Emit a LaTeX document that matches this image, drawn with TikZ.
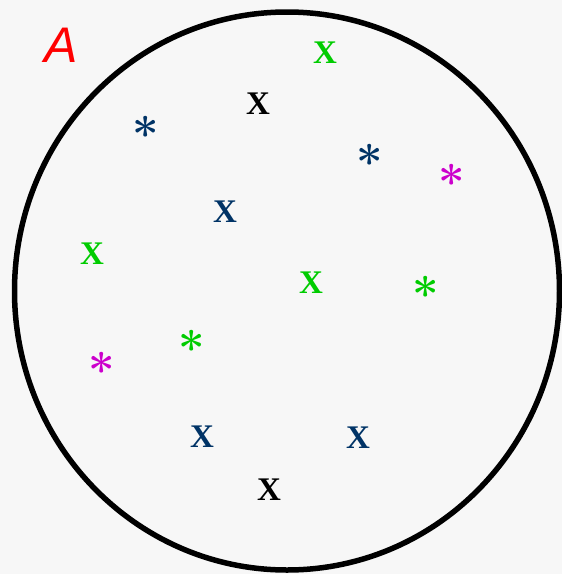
\documentclass[tikz,border=0pt]{standalone}
\usepackage{fontspec}
\newfontfamily\crossfont{Liberation Serif}
\newfontfamily\labelfont{Liberation Sans}
\usepackage{tikz}
\usetikzlibrary{backgrounds}
\definecolor{bggray}{RGB}{247,247,247}
\definecolor{pgreen}{RGB}{0,204,0}
\definecolor{pnavy}{RGB}{0,51,102}
\definecolor{pmagenta}{RGB}{204,0,204}

\begin{document}
\begin{tikzpicture}[
  x=1pt, y=-1pt,
  crs/.style={inner sep=0pt, font=\crossfont\bfseries\fontsize{33}{33}\selectfont},
  ast/.style={inner sep=0pt, anchor=base, yshift=-25pt,
              font=\bfseries\fontsize{47}{47}\selectfont},
  setline/.style={line width=5.5pt}
]
  % - Nen va bien -
  \fill[bggray] (0,0) rectangle (562,574);
  \useasboundingbox (0,0) rectangle (562,574);
  \draw[setline] (287,291) ellipse [x radius=272.5, y radius=279];
  \node[text=red, inner sep=0pt, font=\labelfont\itshape\fontsize{50}{50}\selectfont]
    (lblA) at (61,45) {A};

  % - Cac dau X -
  \node[crs, text=pgreen] (xg1) at (325,53)  {X};
  \node[crs]              (xk1) at (258,104) {X};
  \node[crs, text=pnavy]  (xn1) at (225,212) {X};
  \node[crs, text=pgreen] (xg2) at (92,254)  {X};
  \node[crs, text=pgreen] (xg3) at (311,283) {X};
  \node[crs, text=pnavy]  (xn2) at (202,437) {X};
  \node[crs, text=pnavy]  (xn3) at (358,438) {X};
  \node[crs]              (xk2) at (269,490) {X};

  % - Cac dau sao -
  \node[ast, text=pnavy]    (sn1) at (146,126) {*};
  \node[ast, text=pnavy]    (sn2) at (370,154) {*};
  \node[ast, text=pmagenta] (sm1) at (452,174) {*};
  \node[ast, text=pgreen]   (sg1) at (426,286) {*};
  \node[ast, text=pgreen]   (sg2) at (192,340) {*};
  \node[ast, text=pmagenta] (sm2) at (102,362) {*};
\end{tikzpicture}
\end{document}
